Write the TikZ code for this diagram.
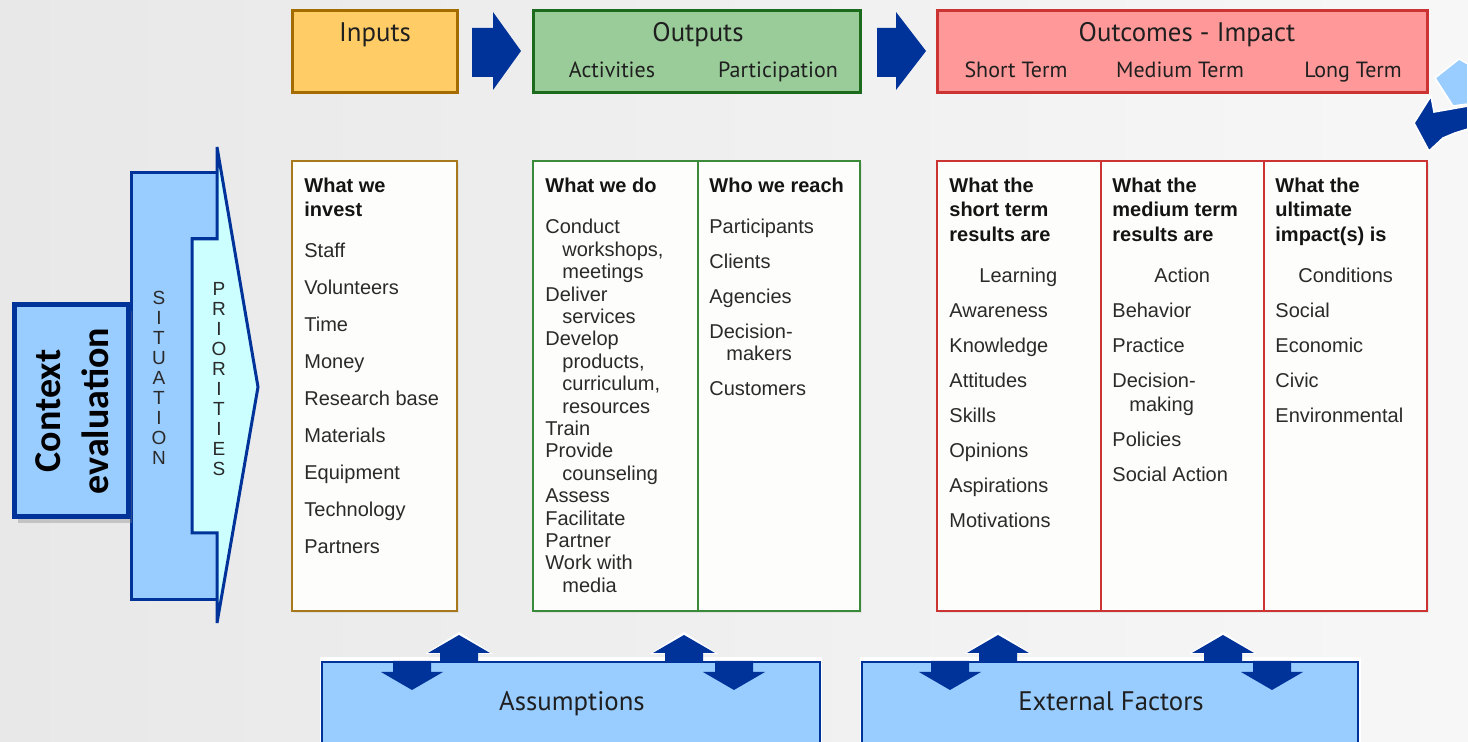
\documentclass[tikz,border=0pt]{standalone}
\usepackage{fontspec}
\setmainfont{Liberation Sans}
\newfontfamily\hdfont{PT Sans}
\newfontfamily\ctxfont{Carlito}
\usetikzlibrary{shadows}
\definecolor{bgl}{HTML}{E8E8E8}
\definecolor{bgr}{HTML}{F7F7F7}
\definecolor{orfill}{HTML}{FFCC66}
\definecolor{ordraw}{HTML}{A36B00}
\definecolor{grfill}{HTML}{99CC99}
\definecolor{grdraw}{HTML}{1C6B1C}
\definecolor{rdfill}{HTML}{FF9999}
\definecolor{rddraw}{HTML}{CC3333}
\definecolor{ltblue}{HTML}{99CCFF}
\definecolor{ltcyan}{HTML}{CCFFFF}
\definecolor{dkblue}{HTML}{003399}
\definecolor{colgreen}{HTML}{3A8A3A}
\definecolor{inpdraw}{HTML}{A8781C}
\definecolor{txt}{HTML}{2A2A2A}
\definecolor{paper}{HTML}{FDFDFB}
\tikzset{
  hbox/.style={line width=1.5pt},
  colbox/.style={fill=paper, line width=1.3pt, drop shadow={opacity=0.12, shadow xshift=1pt, shadow yshift=-1pt}},
  itm/.style={anchor=base west, inner sep=0pt, text=txt, font=\fontsize{10}{12}\selectfont},
  hd/.style={anchor=base west, inner sep=0pt, text=black!92, font=\bfseries\fontsize{10}{12}\selectfont},
  ttl/.style={anchor=base, inner sep=0pt, text=black!88, font=\hdfont\fontsize{13.4}{15}\selectfont},
  subttl/.style={anchor=base, inner sep=0pt, text=black!88, font=\hdfont\fontsize{11}{13}\selectfont},
  vlet/.style={inner sep=0pt, align=center, text=txt, font=\fontsize{9.5}{10}\selectfont},
  blk/.style={fill=dkblue},
  upar/.pic={\fill[white] (0,-3) -- (34,19) -- (-34,19) -- cycle;
             \fill[dkblue] (0,0) -- (31,18) -- (19,18) -- (19,28) -- (-19,28) -- (-19,18) -- (-31,18) -- cycle;},
  dnar/.pic={\fill[dkblue] (0,0) -- (31,-18) -- (19,-18) -- (19,-29) -- (-19,-29) -- (-19,-18) -- (-31,-18) -- cycle;}
}
\begin{document}
\begin{tikzpicture}[x=0.5pt,y=-0.5pt]
\useasboundingbox (0,0) rectangle (1468,742);
\clip (0,0) rectangle (1468,742);
\shade[left color=bgl, right color=bgr] (0,0) rectangle (1468,742);

% ---------- header boxes ----------
\draw[hbox, draw=ordraw, fill=orfill] (292,11) rectangle (457,93);
\draw[hbox, draw=grdraw, fill=grfill] (533,11) rectangle (860,93);
\draw[hbox, draw=rddraw, fill=rdfill] (937,11) rectangle (1427,93);
\node[ttl] (tin) at (375,42) {Inputs};
\node[ttl] (tout) at (698,42) {Outputs};
\node[subttl] (tact) at (612,78) {Activities};
\node[subttl] (tpar) at (778,78) {Participation};
\node[ttl] (toc) at (1187,42) {Outcomes - Impact};
\node[subttl] (tst) at (1016,78) {Short Term};
\node[subttl] (tmt) at (1180,78) {Medium Term};
\node[subttl] (tlt) at (1353,78) {Long Term};

% header block arrows
\fill[blk] (472,28) -- (493,28) -- (493,12) -- (521,51) -- (493,90) -- (493,77) -- (472,77) -- cycle;
\fill[blk] (877,28) -- (896,28) -- (896,12) -- (926,51) -- (896,90) -- (896,77) -- (877,77) -- cycle;

% loop arrow at top right
\filldraw[fill=ltblue, draw=white, line width=0.8pt] (1435,78) -- (1459,59) -- (1468,64) -- (1468,104) -- (1453,106) -- cycle;
\filldraw[fill=dkblue, draw=white, line width=0.8pt] (1414,123) -- (1431,96) -- (1434,112) -- (1468,106) -- (1468,129) -- (1455,133) -- (1443,138) -- (1429,151) -- cycle;

% ---------- situation / priorities ----------
\draw[line width=1.5pt, draw=dkblue, fill=ltblue, line join=miter]
  (131,173) -- (217,173) -- (217,239) -- (192,239) -- (192,533) -- (217,533) -- (217,600) -- (131,600) -- cycle;
\draw[line width=1.5pt, draw=dkblue, fill=ltcyan, line join=miter]
  (217,147) -- (258,387) -- (217,623) -- (217,533) -- (192,533) -- (192,239) -- (217,239) -- cycle;
\node[vlet] (sit) at (159,378) {S\\I\\T\\U\\A\\T\\I\\O\\N};
\node[vlet] (pri) at (219,379) {P\\R\\I\\O\\R\\I\\T\\I\\E\\S};

% context evaluation
\draw[line width=2.5pt, draw=dkblue, fill=ltblue, drop shadow={opacity=0.35, shadow xshift=2pt, shadow yshift=-3pt}] (14,305) rectangle (128,517);
\node[rotate=90, inner sep=0pt, align=center, text=black, font=\ctxfont\bfseries\fontsize{19}{24}\selectfont] (ctx) at (72,411) {Context\\evaluation};

% ---------- column boxes ----------
\draw[colbox, draw=inpdraw] (292,161) rectangle (457,611);
\draw[colbox, draw=colgreen] (533,161) rectangle (860,611);
\draw[line width=1.3pt, draw=colgreen] (698,161) -- (698,611);
\draw[colbox, draw=rddraw] (937,161) rectangle (1427,611);
\draw[line width=1.3pt, draw=rddraw] (1101,161) -- (1101,611);
\draw[line width=1.3pt, draw=rddraw] (1264,161) -- (1264,611);

% inputs column
\node[hd] (inh1) at (304,193) {What we};
\node[hd] (inh2) at (304,217) {invest};
\foreach \t [count=\i] in {Staff,Volunteers,Time,Money,Research base,Materials,Equipment,Technology,Partners}
  \node[itm] (in\i) at (304,221+37*\i) {\t};

% outputs: activities
\node[hd] (acth) at (545,193) {What we do};
\foreach \t/\xx [count=\k from 0] in {Conduct/545,{workshops,}/562,meetings/562,Deliver/545,services/562,Develop/545,{products,}/562,{curriculum,}/562,resources/562,Train/545,Provide/545,counseling/562,Assess/545,Facilitate/545,Partner/545,Work with/545,media/562}
  \node[itm] (act\k) at (\xx,234+22.4*\k) {\t};

% outputs: participation
\node[hd] (parh) at (709,193) {Who we reach};
\node[itm] (par1) at (709,234) {Participants};
\node[itm] (par2) at (709,269) {Clients};
\node[itm] (par3) at (709,304) {Agencies};
\node[itm] (par4) at (709,339) {Decision-};
\node[itm] (par5) at (726,361) {makers};
\node[itm] (par6) at (709,396) {Customers};

% outcomes: short term
\node[hd] (sth1) at (949,193) {What the};
\node[hd] (sth2) at (949,217) {short term};
\node[hd] (sth3) at (949,242) {results are};
\node[itm] (stlab) at (979,283) {Learning};
\foreach \t [count=\i] in {Awareness,Knowledge,Attitudes,Skills,Opinions,Aspirations,Motivations}
  \node[itm] (st\i) at (949,283+35*\i) {\t};

% outcomes: medium term
\node[hd] (mth1) at (1112,193) {What the};
\node[hd] (mth2) at (1112,217) {medium term};
\node[hd] (mth3) at (1112,242) {results are};
\node[itm] (mtlab) at (1154,283) {Action};
\node[itm] (mt1) at (1112,318) {Behavior};
\node[itm] (mt2) at (1112,353) {Practice};
\node[itm] (mt3) at (1112,388) {Decision-};
\node[itm] (mt4) at (1129,412) {making};
\node[itm] (mt5) at (1112,447) {Policies};
\node[itm] (mt6) at (1112,482) {Social Action};

% outcomes: long term
\node[hd] (lth1) at (1275,193) {What the};
\node[hd] (lth2) at (1275,217) {ultimate};
\node[hd] (lth3) at (1275,242) {impact(s) is};
\node[itm] (ltlab) at (1298,283) {Conditions};
\foreach \t [count=\i] in {Social,Economic,Civic,Environmental}
  \node[itm] (lt\i) at (1275,283+35*\i) {\t};

% ---------- bottom boxes ----------
\fill[white] (320,657) rectangle (822,760);
\draw[line width=1.2pt, draw=dkblue, fill=ltblue] (322,662) rectangle (820,760);
\fill[white] (860,657) rectangle (1361,760);
\draw[line width=1.2pt, draw=dkblue, fill=ltblue] (862,662) rectangle (1358,760);
\node[ttl] (assum) at (572,711) {Assumptions};
\node[ttl] (ext) at (1111,711) {External Factors};

\pic at (459,635) {upar};
\pic at (684,635) {upar};
\pic at (412,690) {dnar};
\pic at (734,690) {dnar};
\pic at (998,635) {upar};
\pic at (1223,635) {upar};
\pic at (950,690) {dnar};
\pic at (1272,690) {dnar};
\end{tikzpicture}
\end{document}
